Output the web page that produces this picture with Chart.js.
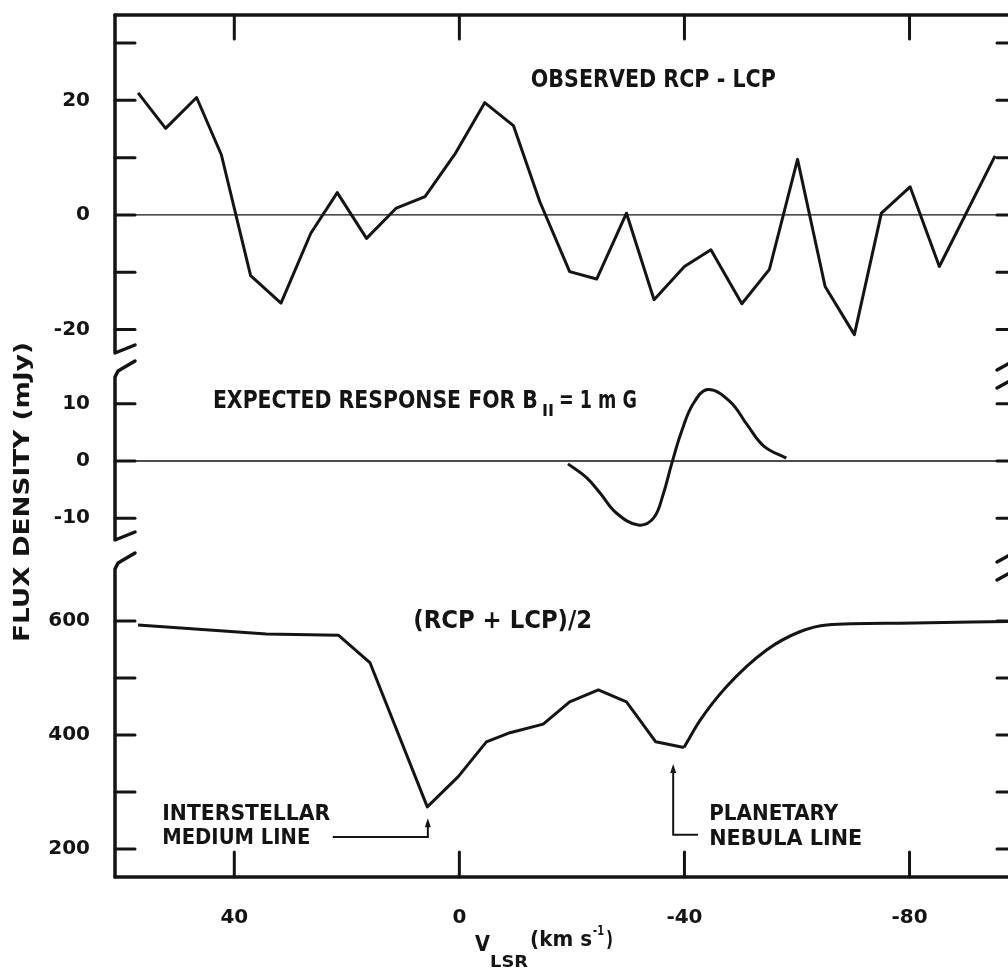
<!DOCTYPE html>
<html>
<head>
<meta charset="utf-8">
<title>RCP - LCP spectrum</title>
<script src="https://cdn.jsdelivr.net/npm/chart.js@4.4.1/dist/chart.umd.min.js"></script>
<style>
  html, body { margin: 0; padding: 0; background: #fff; overflow: hidden; }
</style>
</head>
<body>
<canvas id="spectrum" width="1020" height="969"></canvas>
<script>
// observed RCP - LCP (mJy) against V_LSR (km/s)
const obsVel  = [57.1, 52.2, 46.7, 42.3, 37.1, 31.7, 26.4, 21.7, 16.5, 11.2, 6.1, 0.8, -4.5, -9.6, -14.3,
                 -19.6, -24.4, -29.7, -34.6, -40.0, -44.7, -50.2, -55.1, -60.1, -65.0, -70.2, -75.0, -80.1, -85.3, -95.2];
const obsFlux = [21.3, 15.1, 20.5, 10.5, -10.6, -15.4, -3.2, 3.9, -4.1, 1.2, 3.2, 10.6, 19.6, 15.6, 2.3,
                 -9.9, -11.2, 0.3, -14.8, -9.0, -6.1, -15.5, -9.5, 9.7, -12.5, -20.9, 0.3, 4.9, -9.0, 10.3];

// expected response for B|| = 1 mG
const expVel  = [-19.3, -22.6, -25.0, -27.9, -31.8, -34.5, -36.2, -37.7, -39.5, -41.6, -44.2, -48.1, -51.1, -54.1, -58.1];
const expFlux = [-0.5, -2.9, -5.6, -9.1, -11.2, -10.0, -5.9, -0.6, 5.2, 10.1, 12.5, 10.4, 6.4, 2.6, 0.5];

// (RCP + LCP)/2
const meanVel  = [57.1, 34.3, 21.5, 15.9, 5.7, 0.2, -4.8, -9.0, -14.9, -19.6, -24.7, -29.7, -34.9, -39.9,
                  -42.8, -47.5, -54.6, -60.5, -65.3, -78.3, -97.5];
const meanFlux = [593, 577, 575, 527, 274, 327, 388, 404, 419, 458, 479, 458, 388, 378,
                  426, 485, 549, 581, 593, 596, 599];
const smoothFrom = 13; // index of the PN dip, the trace is a smooth curve after it

// axis ticks
const velTicks   = [40, 0, -40, -80];
const obsTicks   = [30, 20, 10, 0, -10, -20];
const obsLabels  = [20, 0, -20];
const expTicks   = [10, 0, -10];
const meanTicks  = [600, 500, 400, 300, 200];
const meanLabels = [600, 400, 200];

const INK = '#141414';
const NOTE_FONT = '"DejaVu Sans Condensed", "DejaVu Sans", sans-serif';
const TICK_FONT = { family: 'DejaVu Sans', size: 20, weight: 'bold' };

const fmt = v => (v < 0 ? '-' + Math.abs(v) : String(v));
const pts = (xs, ys) => xs.map((v, i) => ({ x: v, y: ys[i] }));
const setTicks = list => axis => { axis.ticks = list.map(v => ({ value: v })); };

// the lettering on the original is stencilled, so squeeze text to the width it had
function fitText(ctx, text, x, y, width) {
    const w = ctx.measureText(text).width;
    ctx.save();
    ctx.translate(x, y);
    ctx.scale(width / w, 1);
    ctx.fillText(text, 0, 0);
    ctx.restore();
}

function seg(ctx, p) {
    ctx.beginPath();
    ctx.moveTo(p[0][0], p[0][1]);
    for (let i = 1; i < p.length; i++) ctx.lineTo(p[i][0], p[i][1]);
    ctx.stroke();
}

function arrowUp(ctx, x, y) {
    ctx.beginPath();
    ctx.moveTo(x - 3, y + 9);
    ctx.lineTo(x, y);
    ctx.lineTo(x + 3, y + 9);
    ctx.closePath();
    ctx.fill();
}

// frame, inward ticks, broken y axis, zero lines and the lettering
const frame = {
    id: 'frame',
    beforeDatasetsDraw(chart) {
        const { ctx, chartArea: a, scales } = chart;
        const { x, yTop, yMid, yBot } = scales;
        const L = a.left, R = a.right;
        const b1 = yMid.top, b2 = yBot.top;
        ctx.save();
        ctx.strokeStyle = INK;
        ctx.lineCap = 'round';
        ctx.lineJoin = 'round';

        ctx.lineWidth = 1.4;
        [yTop, yMid].forEach(s => {
            const y = s.getPixelForValue(0);
            seg(ctx, [[L, y], [R, y]]);
        });

        ctx.lineWidth = 3;
        [yTop, yMid, yBot].forEach(s => s.ticks.forEach(t => {
            const y = s.getPixelForValue(t.value);
            seg(ctx, [[L, y], [L + 20, y]]);
            seg(ctx, [[R - 20, y], [R, y]]);
        }));
        x.ticks.forEach(t => {
            const xp = x.getPixelForValue(t.value);
            seg(ctx, [[xp, a.top], [xp, a.top + 24]]);
            seg(ctx, [[xp, a.bottom], [xp, a.bottom - 25]]);
        });

        ctx.lineWidth = 3.5;
        seg(ctx, [[L, a.top], [R, a.top]]);
        seg(ctx, [[L, a.bottom], [R, a.bottom]]);
        seg(ctx, [[L, a.top], [L, b1 - 20], [L + 20, b1 - 28]]);
        seg(ctx, [[L + 20, b1 - 12], [L + 3, b1 - 2], [L, b1 + 4], [L, b2 - 25], [L + 20, b2 - 33]]);
        seg(ctx, [[L + 20, b2 - 12], [L + 3, b2 - 2], [L, b2 + 4], [L, a.bottom]]);
        [b1, b2].forEach(b => {
            seg(ctx, [[R - 20, b - 3], [R, b - 14]]);
            seg(ctx, [[R - 20, b + 15], [R, b + 4]]);
        });
        ctx.restore();
    },
    afterDraw(chart) {
        const { ctx, scales } = chart;
        const { x, yTop, yMid, yBot } = scales;
        ctx.save();
        ctx.fillStyle = INK;
        ctx.strokeStyle = INK;
        ctx.textAlign = 'left';
        ctx.textBaseline = 'middle';

        ctx.font = `bold 24px ${NOTE_FONT}`;
        fitText(ctx, 'OBSERVED RCP - LCP', x.getPixelForValue(-12.7), yTop.getPixelForValue(23.4), 245);

        const ex = x.getPixelForValue(43.8), ey = yMid.getPixelForValue(10.3);
        fitText(ctx, 'EXPECTED RESPONSE FOR B', ex, ey, 325);
        ctx.font = `bold 16px ${NOTE_FONT}`;
        fitText(ctx, 'II', ex + 329, ey + 10, 12);
        ctx.font = `bold 24px ${NOTE_FONT}`;
        fitText(ctx, '= 1 m G', ex + 346, ey, 78);

        fitText(ctx, '(RCP + LCP)/2', x.getPixelForValue(8.2), yBot.getPixelForValue(598), 179);

        ctx.font = `bold 21px ${NOTE_FONT}`;
        const lx = x.getPixelForValue(52.8);
        fitText(ctx, 'INTERSTELLAR', lx, yBot.getPixelForValue(261), 168);
        fitText(ctx, 'MEDIUM LINE', lx, yBot.getPixelForValue(219), 148);
        const rx = x.getPixelForValue(-44.4);
        fitText(ctx, 'PLANETARY', rx, yBot.getPixelForValue(260), 129);
        fitText(ctx, 'NEBULA LINE', rx, yBot.getPixelForValue(216), 153);

        // pointers to the two absorption lines
        ctx.lineWidth = 2;
        const ism = x.getPixelForValue(5.6), pn = x.getPixelForValue(-38.0);
        seg(ctx, [[x.getPixelForValue(22.5), yBot.getPixelForValue(221)], [ism, yBot.getPixelForValue(221)], [ism, yBot.getPixelForValue(248)]]);
        arrowUp(ctx, ism, yBot.getPixelForValue(254));
        seg(ctx, [[x.getPixelForValue(-42.4), yBot.getPixelForValue(225)], [pn, yBot.getPixelForValue(225)], [pn, yBot.getPixelForValue(340)]]);
        arrowUp(ctx, pn, yBot.getPixelForValue(349));

        // axis titles
        ctx.save();
        ctx.translate(23, 492);
        ctx.rotate(-Math.PI / 2);
        ctx.font = 'bold 22px "DejaVu Sans", sans-serif';
        fitText(ctx, 'FLUX DENSITY (mJy)', -150, 0, 300);
        ctx.restore();

        ctx.textBaseline = 'alphabetic';
        const tx = x.getPixelForValue(-2.8);
        ctx.font = 'bold 22px "DejaVu Sans", sans-serif';
        fitText(ctx, 'V', tx, 951, 15);
        ctx.font = 'bold 16px "DejaVu Sans", sans-serif';
        fitText(ctx, 'LSR', tx + 15, 967, 38);
        ctx.font = 'bold 21px "DejaVu Sans", sans-serif';
        fitText(ctx, '(km s', tx + 55, 946, 62);
        ctx.font = 'bold 14px "DejaVu Sans", sans-serif';
        fitText(ctx, '-1', tx + 118, 935, 11);
        ctx.font = 'bold 21px "DejaVu Sans", sans-serif';
        fitText(ctx, ')', tx + 131, 946, 7);
        ctx.restore();
    }
};

// no label overhang: the frame sits on exact pixel positions
const noOverhang = axis => {
    axis.paddingTop = 0;
    axis.paddingBottom = 0;
    axis.paddingLeft = 0;
    axis.paddingRight = 0;
};

const yBase = {
    type: 'linear',
    position: 'left',
    stack: 'flux',
    grid: { display: false },
    border: { display: false },
    afterFit: axis => { axis.width = 115; noOverhang(axis); },
};

const chart = new Chart('spectrum', {
    type: 'line',
    data: {
        datasets: [
            { label: 'Observed RCP - LCP', data: pts(obsVel, obsFlux), yAxisID: 'yTop' },
            { label: 'Expected response', data: pts(expVel, expFlux), yAxisID: 'yMid', tension: 0.4 },
            { label: '(RCP + LCP)/2', data: pts(meanVel.slice(0, smoothFrom + 1), meanFlux.slice(0, smoothFrom + 1)), yAxisID: 'yBot' },
            { label: '(RCP + LCP)/2 wing', data: pts(meanVel.slice(smoothFrom), meanFlux.slice(smoothFrom)), yAxisID: 'yBot', cubicInterpolationMode: 'monotone' },
        ]
    },
    options: {
        responsive: false,
        animation: false,
        layout: { padding: { top: 15, right: 3, left: 0, bottom: 0 } },
        plugins: { legend: { display: false }, tooltip: { enabled: false } },
        elements: {
            point: { radius: 0 },
            line: { borderColor: INK, borderWidth: 3, borderJoinStyle: 'round', fill: false, tension: 0 }
        },
        scales: {
            x: {
                type: 'linear',
                reverse: true,
                min: -99.1,
                max: 61.2,
                grid: { display: false },
                border: { display: false },
                afterBuildTicks: setTicks(velTicks),
                afterFit: axis => { axis.height = 92; noOverhang(axis); },
                ticks: { padding: 21, color: INK, font: TICK_FONT, autoSkip: false, maxRotation: 0, callback: fmt }
            },
            yTop: {
                ...yBase, weight: 3, stackWeight: 358, min: -27.6, max: 34.9,
                afterBuildTicks: setTicks(obsTicks),
                ticks: { padding: 17, color: INK, font: TICK_FONT, autoSkip: false, callback: v => obsLabels.includes(v) ? fmt(v) : '' }
            },
            yMid: {
                ...yBase, weight: 2, stackWeight: 192, min: -18.2, max: 15.4,
                afterBuildTicks: setTicks(expTicks),
                ticks: { padding: 17, color: INK, font: TICK_FONT, autoSkip: false, callback: fmt }
            },
            yBot: {
                ...yBase, weight: 1, stackWeight: 312, min: 151, max: 698,
                afterBuildTicks: setTicks(meanTicks),
                ticks: { padding: 17, color: INK, font: TICK_FONT, autoSkip: false, callback: v => meanLabels.includes(v) ? fmt(v) : '' }
            }
        }
    },
    plugins: [frame]
});
</script>
</body>
</html>
